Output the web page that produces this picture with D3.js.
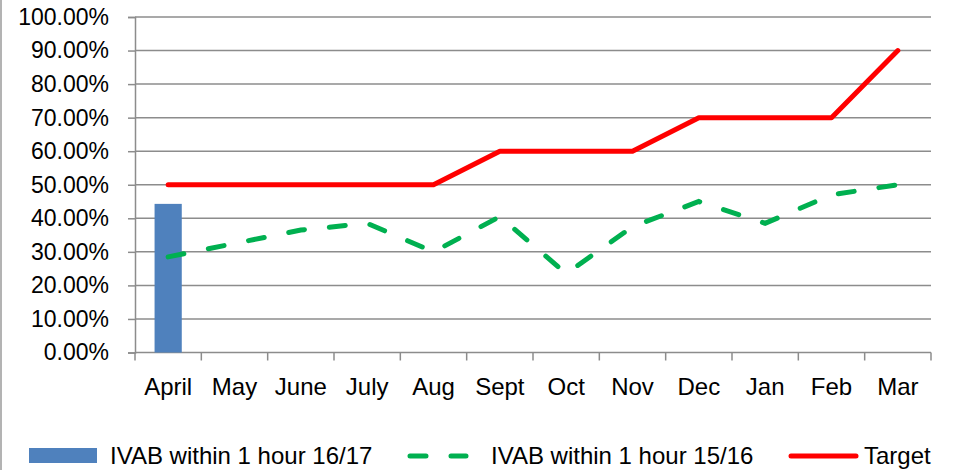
<!DOCTYPE html>
<html>
<head>
<meta charset="utf-8">
<script src="https://cdn.jsdelivr.net/npm/d3@7"></script>
<style>
  body { margin: 0; background: #fff; }
  svg { display: block; font-family: "Liberation Sans", Arial, sans-serif; }
</style>
</head>
<body>
<svg id="chart" width="957" height="470"></svg>
<script>
// data
var months = ['April', 'May', 'June', 'July', 'Aug', 'Sept', 'Oct', 'Nov', 'Dec', 'Jan', 'Feb', 'Mar'];
var ivab1617 = [44.3, null, null, null, null, null, null, null, null, null, null, null];
var ivab1516 = [28.5, 32.5, 36.5, 38.5, 30, 40.5, 23.5, 37.5, 45, 38.5, 47, 50];
var target = [50, 50, 50, 50, 50, 60, 60, 60, 70, 70, 70, 90];
var yTicks = [0, 10, 20, 30, 40, 50, 60, 70, 80, 90, 100];

var svg = d3.select('#chart');
var plotLeft = 135, plotRight = 931, plotTop = 17, plotBottom = 352.5;
var gridCol = '#8c8c8c';

var x = d3.scaleBand().domain(months).range([plotLeft, plotRight]);
var y = d3.scaleLinear().domain([0, 100]).range([plotBottom, plotTop]);

// outer frame edge on the left
svg.append('line')
  .attr('x1', 1).attr('x2', 1).attr('y1', 0).attr('y2', 470)
  .attr('stroke', '#9a9a9a').attr('stroke-width', 1.5);

// gridlines
svg.append('g').selectAll('line').data(yTicks.slice(1)).join('line')
  .attr('x1', plotLeft).attr('x2', plotRight)
  .attr('y1', function(d){ return y(d); }).attr('y2', function(d){ return y(d); })
  .attr('stroke', gridCol).attr('stroke-width', 1.5);

// y axis
var yAxis = svg.append('g').attr('transform', 'translate(' + plotLeft + ',0)')
  .call(d3.axisLeft(y).tickValues(yTicks).tickSize(7).tickPadding(19)
    .tickFormat(function(d){ return d.toFixed(2) + '%'; }));
yAxis.select('.domain').attr('stroke', gridCol).attr('stroke-width', 1.5);
yAxis.selectAll('.tick line').attr('stroke', gridCol).attr('stroke-width', 1.5);
yAxis.selectAll('.tick text').attr('fill', '#000').style('font-size', '23px')
  .style('font-family', '"Liberation Sans", Arial, sans-serif');

// x axis: ticks on category boundaries
var bounds = months.map(function(m){ return x(m); }).concat([plotRight]);
svg.append('line')
  .attr('x1', plotLeft).attr('x2', plotRight).attr('y1', plotBottom).attr('y2', plotBottom)
  .attr('stroke', gridCol).attr('stroke-width', 1.5);
svg.append('g').selectAll('line').data(bounds).join('line')
  .attr('x1', function(d){ return d; }).attr('x2', function(d){ return d; })
  .attr('y1', plotBottom).attr('y2', plotBottom + 8)
  .attr('stroke', gridCol).attr('stroke-width', 1.5);
svg.append('g').selectAll('text').data(months).join('text')
  .attr('x', function(d){ return x(d) + x.bandwidth() / 2; })
  .attr('y', 395)
  .attr('text-anchor', 'middle')
  .style('font-size', '24px')
  .text(function(d){ return d; });

// bars 16/17
var barW = x.bandwidth() * 0.41;
svg.append('g').selectAll('rect')
  .data(months.map(function(m, i){ return { m: m, v: ivab1617[i] }; })
    .filter(function(d){ return d.v != null; }))
  .join('rect')
  .attr('x', function(d){ return x(d.m) + (x.bandwidth() - barW) / 2; })
  .attr('y', function(d){ return y(d.v); })
  .attr('width', barW)
  .attr('height', function(d){ return plotBottom - y(d.v); })
  .attr('fill', '#4f81bd');

var line = d3.line()
  .x(function(d, i){ return x(months[i]) + x.bandwidth() / 2; })
  .y(function(d){ return y(d); });

// 15/16 dashed
svg.append('path').datum(ivab1516)
  .attr('d', line)
  .attr('fill', 'none').attr('stroke', '#00b050').attr('stroke-width', 5)
  .attr('stroke-linecap', 'round').attr('stroke-dasharray', '16,25');

// target
svg.append('path').datum(target)
  .attr('d', line)
  .attr('fill', 'none').attr('stroke', '#ff0000').attr('stroke-width', 5)
  .attr('stroke-linecap', 'round').attr('stroke-linejoin', 'round');

// legend
var ly = 456;
var lg = svg.append('g').style('font-size', '24px');
lg.append('rect').attr('x', 29).attr('y', 448).attr('width', 68).attr('height', 15).attr('fill', '#4f81bd');
lg.append('text').attr('x', 110).attr('y', ly).attr('dy', '0.35em').text('IVAB within 1 hour 16/17');
lg.append('line').attr('x1', 410).attr('x2', 466).attr('y1', ly).attr('y2', ly)
  .attr('stroke', '#00b050').attr('stroke-width', 5)
  .attr('stroke-linecap', 'round').attr('stroke-dasharray', '16,25');
lg.append('text').attr('x', 491).attr('y', ly).attr('dy', '0.35em').text('IVAB within 1 hour 15/16');
lg.append('line').attr('x1', 791).attr('x2', 856).attr('y1', ly).attr('y2', ly)
  .attr('stroke', '#ff0000').attr('stroke-width', 5).attr('stroke-linecap', 'round');
lg.append('text').attr('x', 864).attr('y', ly).attr('dy', '0.35em').text('Target');
</script>
</body>
</html>
